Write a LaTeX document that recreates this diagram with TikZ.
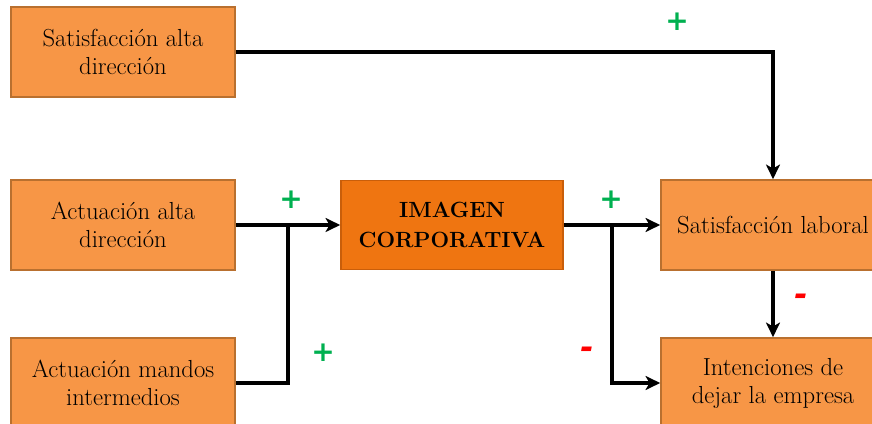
\documentclass[tikz,border=0pt]{standalone}
\usepackage{fontspec}
\newfontfamily\signfont{DejaVu Sans}
\usepackage{tikz}
\usetikzlibrary{arrows.meta, positioning, calc}
\definecolor{boxorange}{HTML}{F79646}
\definecolor{boxedge}{HTML}{B9702F}
\definecolor{coreorange}{HTML}{EF7511}
\definecolor{coreedge}{HTML}{C95E0A}
\definecolor{plusgreen}{HTML}{00B050}
\definecolor{minusred}{HTML}{FF0000}
\tikzset{
    box/.style={rectangle, draw=boxedge, line width=1.2pt, fill=boxorange, minimum width=168pt, minimum height=67.5pt, align=center, font=\fontsize{18.5}{21}\selectfont, inner sep=2pt},
    corebox/.style={box, draw=coreedge, fill=coreorange, minimum width=166.5pt, minimum height=66.75pt, font=\fontsize{16.5}{22.5}\selectfont\bfseries},
    arrow/.style={-{Stealth[length=11pt, width=10.5pt, inset=3pt]}, line width=2.35pt, draw=black},
    link/.style={line width=2.35pt, draw=black},
    plus/.style={text=plusgreen, font=\signfont\fontsize{21}{21}\selectfont\bfseries, inner sep=0pt},
    minus/.style={text=minusred, font=\signfont\fontsize{24}{24}\selectfont\bfseries\itshape, inner sep=0pt}
}
\begin{document}
\begin{tikzpicture}[x=0.75pt, y=-0.75pt]
    \useasboundingbox (0,0) rectangle (872,424);
    \node[box] (satalta) at (123,52) {Satisfacción alta\\dirección};
    \node[box] (actalta) at (123,225) {Actuación alta\\dirección};
    \node[box] (mandos) at (123,383) {Actuación mandos\\intermedios};
    \node[corebox] (imagen) at (452,225) {IMAGEN\\CORPORATIVA};
    \node[box] (satlab) at (773,225) {Satisfacción laboral};
    \node[box] (intenc) at (773,383) {Intenciones de\\dejar la empresa};

    \coordinate (joinleft) at (288,225);
    \coordinate (joinright) at (612,225);

    \draw[arrow] (satalta.east) -| (satlab.north);
    \draw[arrow] (actalta) -- (imagen);
    \draw[link] (mandos.east) -| (joinleft);
    \draw[arrow] (imagen) -- (satlab);
    \draw[arrow] (joinright) |- (intenc.west);
    \draw[arrow] (satlab) -- (intenc);

    \node[plus] (plustop) at (677,22) {+};
    \node[plus] (plusact) at (291,200) {+};
    \node[plus] (plusmandos) at (323,353) {+};
    \node[plus] (plussat) at (611,200) {+};
    \node[minus] (minussat) at (801,300) {-};
    \node[minus] (minusimg) at (587,353) {-};
\end{tikzpicture}
\end{document}
